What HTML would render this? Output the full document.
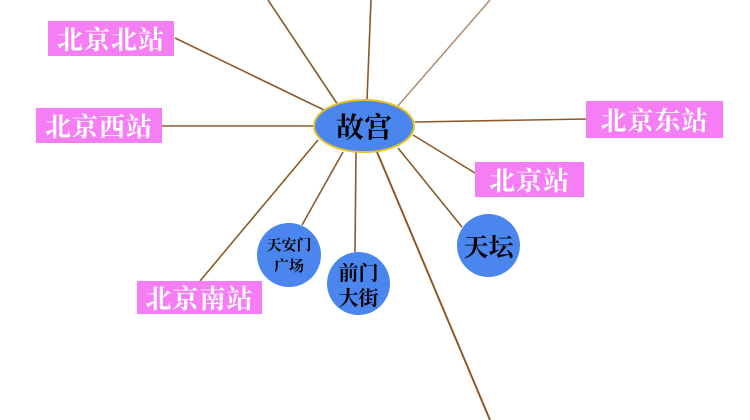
<!DOCTYPE html>
<html><head><meta charset="utf-8"><style>
html,body{margin:0;padding:0;background:#fff;width:750px;height:420px;overflow:hidden}
.b{position:absolute;background:#f67ef4;color:#fff;font-family:"Noto Serif CJK SC",serif;font-weight:bold;font-size:26px;line-height:35px;text-align:center;letter-spacing:1px;white-space:nowrap}
.c{position:absolute;border-radius:50%;background:#4a86ee;color:#000;font-family:"Noto Serif CJK SC",serif;font-weight:bold;display:flex;align-items:center;justify-content:center;text-align:center}
</style></head><body>
<svg width="750" height="420" style="position:absolute;left:0;top:0">
<g stroke="#8b5a2b" stroke-width="1.6" fill="none">
<line x1="268" y1="0" x2="338" y2="105"/>
<line x1="371" y1="0" x2="367" y2="100"/>
<line x1="490" y1="0" x2="397" y2="107" stroke="#b49070"/>
<line x1="175" y1="38" x2="324" y2="110"/>
<line x1="162" y1="126" x2="313" y2="126"/>
<line x1="415" y1="122" x2="586" y2="119"/>
<line x1="413" y1="135" x2="475" y2="173"/>
<line x1="200" y1="281" x2="318" y2="140"/>
<line x1="302" y1="225" x2="343" y2="152"/>
<line x1="355" y1="252" x2="356" y2="152"/>
<line x1="377" y1="152" x2="490" y2="420" stroke-width="2"/>
<line x1="398" y1="148" x2="462" y2="227"/>
</g>
<ellipse cx="364" cy="126" rx="50" ry="26" fill="#4a86ee" stroke="#e8c020" stroke-width="2"/>
<text x="364" y="137" text-anchor="middle" font-family="Noto Serif CJK SC, serif" font-weight="bold" font-size="28" fill="#000">故宫</text>
</svg>
<div class="b" style="left:48px;top:21px;width:126px">北京北站</div>
<div class="b" style="left:36px;top:108px;width:126px">北京西站</div>
<div class="b" style="left:586px;top:101px;width:137px;height:37px;line-height:37px">北京东站</div>
<div class="b" style="left:475px;top:162px;width:109px">北京站</div>
<div class="b" style="left:137px;top:281px;width:125px;height:33px;line-height:33px">北京南站</div>
<div class="c" style="left:257px;top:223px;width:64px;height:64px;font-size:15px;line-height:21px">天安门<br>广场</div>
<div class="c" style="left:327px;top:252px;width:63px;height:63px;font-size:20px;line-height:25px">前门<br>大街</div>
<div class="c" style="left:457px;top:214px;width:63px;height:63px;font-size:25px">天坛</div>
</body></html>
